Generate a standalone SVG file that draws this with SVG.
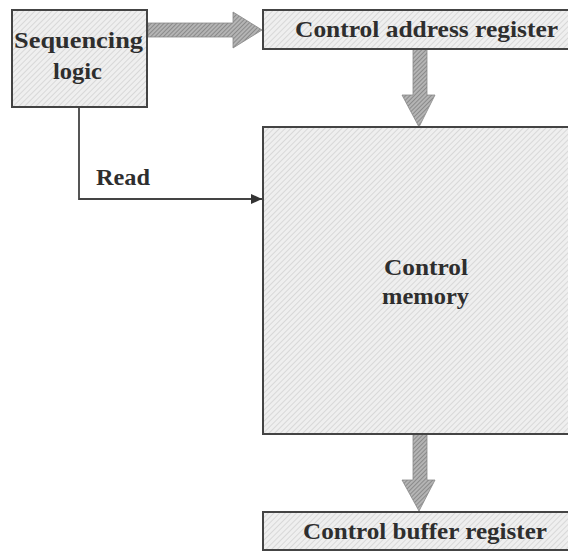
<svg xmlns="http://www.w3.org/2000/svg" width="568" height="552" viewBox="0 0 568 552">
<defs>
<pattern id="hatch" width="4" height="4" patternUnits="userSpaceOnUse" patternTransform="rotate(45)">
<rect width="4" height="4" fill="#efefef"/>
<line x1="0" y1="0" x2="0" y2="4" stroke="#cfcfcf" stroke-width="1.4"/>
</pattern>
<pattern id="hatchDark" width="3" height="3" patternUnits="userSpaceOnUse" patternTransform="rotate(45)">
<rect width="3" height="3" fill="#b4b4b4"/>
<line x1="0" y1="0" x2="0" y2="3" stroke="#6e6e6e" stroke-width="1.2"/>
</pattern>
<marker id="arr" markerWidth="12" markerHeight="12" refX="11" refY="6" orient="auto" markerUnits="userSpaceOnUse">
<path d="M0,1 L11,6 L0,11 z" fill="#333"/>
</marker>
<style>
.box{fill:url(#hatch);stroke:#444;stroke-width:2}
.big{fill:url(#hatchDark);stroke:#888;stroke-width:0.8}
.t{font-family:"Liberation Serif","Times New Roman",serif;font-weight:bold;font-size:24px;fill:#2e2e2e;text-anchor:middle}
.line{fill:none;stroke:#444;stroke-width:1.8}
</style>
</defs>
<rect width="568" height="552" fill="#ffffff"/>
<g id="connectors">
<path class="big" d="M148,23 L233,23 L233,12 L262,30 L233,48 L233,37 L148,37 z"/>
<path class="big" d="M413,49 L427,49 L427,95 L435,95 L419,127 L402,95 L413,95 z"/>
<path class="big" d="M413,434 L427,434 L427,480 L435,480 L419,511 L402,480 L413,480 z"/>
<path class="line" d="M79,107 L79,199 L262,199" marker-end="url(#arr)"/>
<text class="t" x="123" y="185" textLength="54" lengthAdjust="spacingAndGlyphs">Read</text>
</g>
<g id="sequencing-logic">
<rect class="box" x="12" y="10" width="135" height="97"/>
<text class="t" x="78.5" y="48" textLength="129" lengthAdjust="spacingAndGlyphs">Sequencing</text>
<text class="t" x="77.5" y="79" textLength="49" lengthAdjust="spacingAndGlyphs">logic</text>
</g>
<g id="control-address-register">
<rect class="box" x="263" y="10" width="330" height="39"/>
<text class="t" x="426.5" y="37" textLength="263" lengthAdjust="spacingAndGlyphs">Control address register</text>
</g>
<g id="control-memory">
<rect class="box" x="263" y="127" width="330" height="307"/>
<text class="t" x="426" y="275" textLength="84" lengthAdjust="spacingAndGlyphs">Control</text>
<text class="t" x="425.5" y="304" textLength="87" lengthAdjust="spacingAndGlyphs">memory</text>
</g>
<g id="control-buffer-register">
<rect class="box" x="263" y="512" width="330" height="38"/>
<text class="t" x="425" y="539" textLength="244" lengthAdjust="spacingAndGlyphs">Control buffer register</text>
</g>
</svg>
